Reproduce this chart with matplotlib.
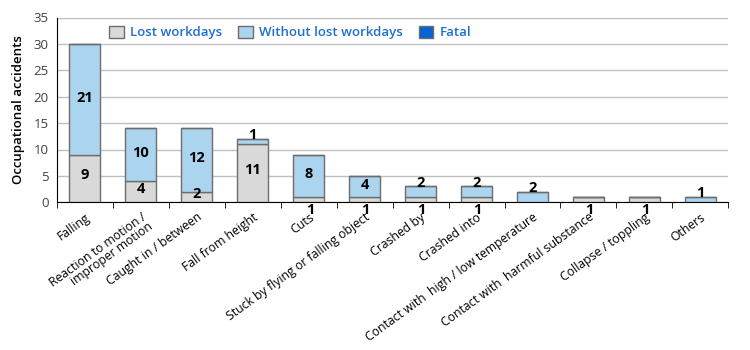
import numpy as np
import matplotlib.pyplot as plt

plt.rcParams['font.family'] = ['Open Sans', 'Noto Sans', 'DejaVu Sans']

categories = [
    "Falling",
    "Reaction to motion /\nimproper motion",
    "Caught in / between",
    "Fall from height",
    "Cuts",
    "Stuck by flying or falling object",
    "Crashed by",
    "Crashed into",
    "Contact with  high / low temperature",
    "Contact with  harmful substance",
    "Collapse / toppling",
    "Others",
]
lost_workdays = [9, 4, 2, 11, 1, 1, 1, 1, 0, 1, 1, 0]
without_lost = [21, 10, 12, 1, 8, 4, 2, 2, 2, 0, 0, 1]
fatal = [0, 0, 0, 0, 0, 0, 0, 0, 0, 0, 0, 0]

c_lost = "#d9d9d9"
c_without = "#abd4ee"
c_fatal = "#0563d4"
edge = "#6d6d6d"

fig = plt.figure(figsize=(7.5, 3.5), dpi=100)
ax = fig.add_axes([0.076, 0.422, 0.895, 0.528])

x = np.arange(len(categories))
lost = np.array(lost_workdays)
wo = np.array(without_lost)
fa = np.array(fatal)
w = 0.555

ax.bar(x, lost, w, color=c_lost, edgecolor=edge, linewidth=1, label="Lost workdays", zorder=3)
ax.bar(x, wo, w, bottom=lost, color=c_without, edgecolor=edge, linewidth=1,
       label="Without lost workdays", zorder=3)
ax.bar(x, fa, w, bottom=lost + wo, color=c_fatal, edgecolor=edge, linewidth=1,
       label="Fatal", zorder=3)

# value labels
lab = dict(fontsize=10.5, fontweight="bold", zorder=5, ha="center")
for i in range(len(x)):
    if lost[i] > 1:
        ax.text(x[i], lost[i] / 2 + 0.6, str(lost[i]), va="center", **lab)
    elif lost[i] == 1:
        ax.text(x[i] + 0.02, -0.1, str(lost[i]), va="top", **lab)
    if wo[i] > 2:
        ax.text(x[i], lost[i] + wo[i] / 2 + 0.3, str(wo[i]), va="center", **lab)
    elif wo[i] > 0:
        ax.text(x[i], lost[i] + wo[i] - 0.6, str(wo[i]), va="bottom", **lab)

ax.set_ylim(0, 35)
ax.set_xlim(-0.5, len(categories) - 0.5)
ax.set_yticks(range(0, 36, 5))
ax.yaxis.grid(True, color="#bfbfbf", linewidth=1, zorder=0)
ax.set_axisbelow(True)
ax.tick_params(axis="y", length=0, labelsize=9.5, labelcolor="#404040", pad=6)
ax.set_ylabel("Occupational accidents", fontsize=9.5, fontweight="semibold", labelpad=6)

ax.set_xticks(x)
ax.set_xticklabels(categories, rotation=36, ha="right", rotation_mode="anchor",
                   fontsize=8.8, linespacing=0.85)
ax.tick_params(axis="x", length=0, pad=6)
ax.set_xticks(np.arange(-0.5, len(categories), 1), minor=True)
ax.tick_params(axis="x", which="minor", length=4, color="black", direction="out")

for s in ["top", "right"]:
    ax.spines[s].set_visible(False)
ax.spines["left"].set_color("black")
ax.spines["bottom"].set_color("black")

leg = ax.legend(loc="upper left", bbox_to_anchor=(0.06, 1.02), ncol=3, frameon=False,
                fontsize=9.5, handlelength=1.1, handleheight=1.1, columnspacing=1.2,
                handletextpad=0.5)
for t in leg.get_texts():
    t.set_color("#1f6fd0")
    t.set_fontweight("semibold")

fig.savefig("out.png", dpi=100)
